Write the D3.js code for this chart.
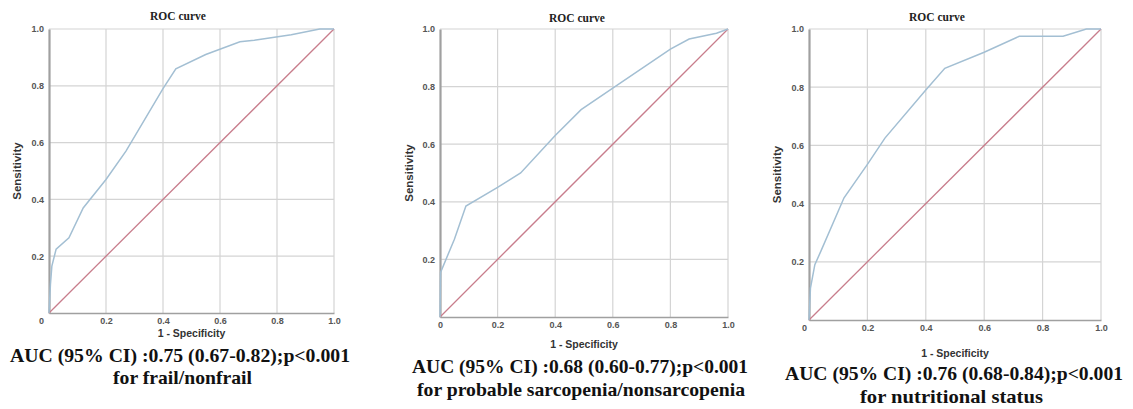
<!DOCTYPE html>
<html>
<head>
<meta charset="utf-8">
<script src="https://d3js.org/d3.v7.min.js"></script>
<style>
  body { margin: 0; background: #fff; }
  svg { display: block; }
</style>
</head>
<body>
<div id="chart"></div>
<script>
// ROC points (1 - specificity, sensitivity)
var frailFpr = [0, 0.005, 0.01, 0.025, 0.07, 0.12, 0.2, 0.27, 0.4, 0.445, 0.55, 0.67, 0.72, 0.85, 0.95, 1]
var frailTpr = [0, 0.10, 0.165, 0.225, 0.265, 0.37, 0.47, 0.57, 0.79, 0.86, 0.91, 0.955, 0.96, 0.98, 1, 1]

var sarcFpr = [0, 0.002, 0.05, 0.09, 0.2, 0.28, 0.4, 0.49, 0.6, 0.8, 0.865, 0.96, 1]
var sarcTpr = [0, 0.155, 0.27, 0.385, 0.45, 0.5, 0.63, 0.72, 0.795, 0.93, 0.965, 0.985, 1]

var nutrFpr = [0, 0.005, 0.02, 0.04, 0.12, 0.2, 0.26, 0.4, 0.465, 0.6, 0.72, 0.87, 0.95, 1]
var nutrTpr = [0, 0.11, 0.19, 0.235, 0.42, 0.535, 0.625, 0.79, 0.865, 0.92, 0.975, 0.975, 1, 1]

var refLine = [0, 1]
var xTicks = [0, 0.2, 0.4, 0.6, 0.8, 1.0]
var yTicks = [0.2, 0.4, 0.6, 0.8, 1.0]

var captions1 = ['AUC (95% CI) :0.75 (0.67-0.82);p<0.001', 'AUC (95% CI) :0.68 (0.60-0.77);p<0.001', 'AUC (95% CI) :0.76 (0.68-0.84);p<0.001']
var captions2 = ['for frail/nonfrail', 'for probable sarcopenia/nonsarcopenia', 'for nutritional status']

// panel layout: plot box and text positions (pixels)
var panels = [
    {fpr: frailFpr, tpr: frailTpr, left: 49, right: 334, top: 29, bottom: 313, titleX: 178, titleY: 20,
     ylabX: 21, xlabY: 337, cap1Y: 362, cap2Y: 384, cap1: [10, 350], cap2: [113, 252], zeroDx: -8},
    {fpr: sarcFpr, tpr: sarcTpr, left: 440, right: 728, top: 29, bottom: 317, titleX: 577, titleY: 22,
     ylabX: 413, xlabY: 348, cap1Y: 373, cap1: [412, 748], cap2Y: 396, cap2: [417, 745], zeroDx: 0},
    {fpr: nutrFpr, tpr: nutrTpr, left: 809, right: 1101, top: 29, bottom: 320, titleX: 937, titleY: 21,
     ylabX: 781, xlabY: 357, cap1Y: 380, cap1: [785, 1123], cap2Y: 403, cap2: [860, 1043], zeroDx: -5}
]

var svg = d3.select('#chart').append('svg').attr('width', 1133).attr('height', 409)

var fmt = d3.format('.1f')

function drawPanel(p, i) {
    let x = d3.scaleLinear().domain([0, 1]).range([p.left, p.right])
    let y = d3.scaleLinear().domain([0, 1]).range([p.bottom, p.top])
    let g = svg.append('g')

    // grid
    g.selectAll('line.vg').data(xTicks.slice(1)).join('line')
        .attr('x1', d => x(d)).attr('x2', d => x(d))
        .attr('y1', y(0)).attr('y2', y(1))
        .attr('stroke', '#d4d4d4').attr('stroke-width', 1.2)
    g.selectAll('line.hg').data(yTicks).join('line')
        .attr('y1', d => y(d)).attr('y2', d => y(d))
        .attr('x1', x(0)).attr('x2', x(1))
        .attr('stroke', '#d4d4d4').attr('stroke-width', 1.2)

    // axes
    let xa = g.append('g').attr('transform', 'translate(0,' + p.bottom + ')')
        .call(d3.axisBottom(x).tickValues(xTicks).tickSize(0).tickPadding(5)
            .tickFormat(d => d === 0 ? '0' : fmt(d)))
    xa.select('.domain').attr('stroke', '#a0a0a0').attr('stroke-width', 1.6)
    xa.selectAll('text').filter(d => d === 0).attr('dx', p.zeroDx)

    let ya = g.append('g').attr('transform', 'translate(' + p.left + ',0)')
        .call(d3.axisLeft(y).tickValues(yTicks).tickSize(0).tickPadding(5).tickFormat(fmt))
    ya.select('.domain').attr('stroke', '#a0a0a0').attr('stroke-width', 2.2)

    g.selectAll('.tick text')
        .attr('font-family', 'Liberation Sans, Arial, sans-serif')
        .attr('font-size', 9).attr('font-weight', 'bold').attr('fill', '#555')

    // reference line
    g.append('line')
        .attr('x1', x(refLine[0])).attr('y1', y(refLine[0]))
        .attr('x2', x(refLine[1])).attr('y2', y(refLine[1]))
        .attr('stroke', '#c87d8c').attr('stroke-width', 1.3)

    // ROC curve
    let pts = p.fpr.map((v, k) => [v, p.tpr[k]])
    g.append('path')
        .datum(pts)
        .attr('d', d3.line().x(d => x(d[0])).y(d => y(d[1])))
        .attr('fill', 'none').attr('stroke', '#a3bfd3').attr('stroke-width', 1.5)

    // titles and labels
    g.append('text').text('ROC curve')
        .attr('x', p.titleX).attr('y', p.titleY).attr('text-anchor', 'middle')
        .attr('font-family', 'Liberation Serif, Times New Roman, serif')
        .attr('font-size', 11.5).attr('font-weight', 'bold').attr('fill', '#222')

    g.append('text').text('Sensitivity')
        .attr('transform', 'translate(' + p.ylabX + ',' + ((p.top + p.bottom) / 2) + ') rotate(-90)')
        .attr('text-anchor', 'middle')
        .attr('font-family', 'Liberation Sans, Arial, sans-serif')
        .attr('font-size', 11.5).attr('font-weight', 'bold').attr('fill', '#333')

    g.append('text').text('1 - Specificity')
        .attr('x', (p.left + p.right) / 2).attr('y', p.xlabY).attr('text-anchor', 'middle')
        .attr('font-family', 'Liberation Sans, Arial, sans-serif')
        .attr('font-size', 10.5).attr('font-weight', 'bold').attr('fill', '#333')

    g.append('text').text(captions1[i])
        .attr('x', p.cap1[0]).attr('y', p.cap1Y)
        .attr('textLength', p.cap1[1] - p.cap1[0]).attr('lengthAdjust', 'spacingAndGlyphs')
        .attr('font-family', 'Liberation Serif, Times New Roman, serif')
        .attr('font-size', 19).attr('font-weight', 'bold').attr('fill', '#111')

    g.append('text').text(captions2[i])
        .attr('x', p.cap2[0]).attr('y', p.cap2Y)
        .attr('textLength', p.cap2[1] - p.cap2[0]).attr('lengthAdjust', 'spacingAndGlyphs')
        .attr('font-family', 'Liberation Serif, Times New Roman, serif')
        .attr('font-size', 19).attr('font-weight', 'bold').attr('fill', '#111')
}

panels.forEach(drawPanel)
</script>
</body>
</html>
